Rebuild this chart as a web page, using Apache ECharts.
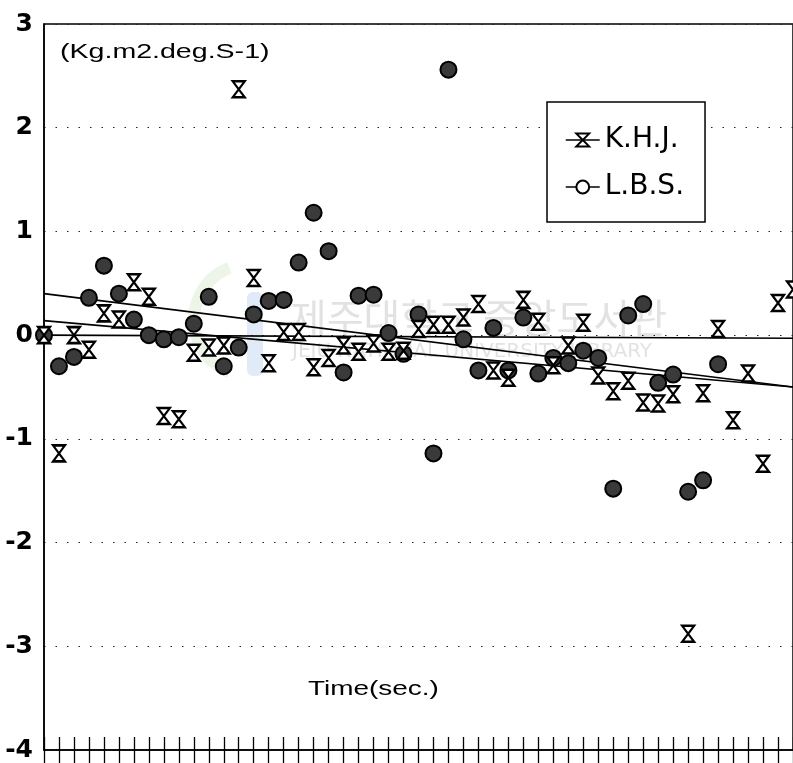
<!DOCTYPE html>
<html>
<head>
<meta charset="utf-8">
<script src="https://cdn.jsdelivr.net/npm/echarts@6/dist/echarts.min.js"></script>
<style>
  html, body { margin: 0; padding: 0; background: #fff; }
  #chart { width: 793px; height: 763px; }
</style>
</head>
<body>
<div id="chart"></div>
<script>
// Angular momentum samples, one per tick on the time axis
const khj = [0.00, -1.14, 0.00, -0.14, 0.21, 0.15, 0.51, 0.37, -0.78, -0.81,
             -0.17, -0.12, -0.10, 2.37, 0.55, -0.27, 0.03, 0.03, -0.31, -0.22,
             -0.10, -0.16, -0.08, -0.16, -0.15, 0.06, 0.10, 0.10, 0.17, 0.30,
             -0.34, -0.41, 0.34, 0.13, -0.29, -0.10, 0.12, -0.39, -0.54, -0.44,
             -0.65, -0.66, -0.57, -2.88, -0.56, 0.06, -0.82, -0.37, -1.24, 0.31,
             0.44];
const lbs = [0.00, -0.30, -0.21, 0.36, 0.67, 0.40, 0.15, 0.00, -0.04, -0.02,
             0.11, 0.37, -0.30, -0.12, 0.20, 0.33, 0.34, 0.70, 1.18, 0.81,
             -0.36, 0.38, 0.39, 0.02, -0.18, 0.20, -1.14, 2.56, -0.04, -0.34,
             0.07, -0.34, 0.17, -0.37, -0.22, -0.27, -0.15, -0.22, -1.48, 0.19,
             0.30, -0.46, -0.38, -1.51, -1.40, -0.28];

// Straight fitted lines: values at the two ends of the time axis
const fitX = [0, 50];
const fitUpper = [0.40, -0.50];
const fitLower = [0.14, -0.50];
const fitFlat = [0.00, -0.03];

const yTicks = [-4, -3, -2, -1, 0, 1, 2, 3];
const seriesNames = ['K.H.J.', 'L.B.S.'];
const unitLabel = '(Kg.m2.deg.S-1)';
const timeLabel = 'Time(sec.)';
const markName = '제주대학교 중앙도서관';
const markSub = 'JEJU NATIONAL UNIVERSITY LIBRARY';

const toPairs = arr => arr.map((v, i) => [i, v]);
const fitPairs = arr => arr.map((v, i) => [fitX[i], v]);

const hourglass = 'path://M0,0H12L6,8L12,16H0L6,8Z';

const GRID_TOP = 24, GRID_BOTTOM = 13, HEIGHT = 763;
const plotHeight = HEIGHT - GRID_TOP - GRID_BOTTOM;

const fitLine = (data) => ({
  type: 'line',
  data: fitPairs(data),
  symbol: 'none',
  silent: true,
  z: 1,
  lineStyle: { color: '#000', width: 1.6 }
});

// Time axis: crossing tick marks, drawn as two axes on the same baseline
const timeAxis = (position, offset) => ({
  type: 'value', min: 0, max: 50, interval: 1, position, offset,
  axisLine: { show: position === 'bottom', onZero: false, lineStyle: { color: '#000', width: 1.5 } },
  axisTick: { show: true, inside: false, length: 13, lineStyle: { color: '#000', width: 1.3 } },
  axisLabel: { show: false },
  splitLine: { show: false }
});

const chart = echarts.init(document.getElementById('chart'), null, { renderer: 'canvas' });

chart.setOption({
  animation: false,
  backgroundColor: '#fff',
  grid: {
    left: 44, top: GRID_TOP, right: -5, bottom: GRID_BOTTOM,
    show: true, borderColor: '#000', borderWidth: 1.5, backgroundColor: 'transparent'
  },
  xAxis: [timeAxis('bottom', 0), timeAxis('top', -plotHeight)],
  yAxis: {
    type: 'value', min: yTicks[0], max: yTicks[yTicks.length - 1], interval: 1,
    axisLine: { show: true, onZero: false, lineStyle: { color: '#000', width: 1.5 } },
    axisTick: { show: false },
    axisLabel: {
      margin: 11, color: '#000',
      fontFamily: 'DejaVu Sans', fontWeight: 'bold', fontSize: 25
    },
    splitLine: { show: true, lineStyle: { color: '#222', width: 1.2, type: [1.5, 10] } }
  },
  legend: {
    orient: 'vertical', left: 547, top: 102,
    padding: [24, 21, 21, 18], itemGap: 19, itemWidth: 34, itemHeight: 16,
    backgroundColor: '#fff', borderColor: '#000', borderWidth: 1.5,
    textStyle: { fontFamily: 'DejaVu Sans', fontSize: 28, color: '#000' },
    lineStyle: { color: '#000', width: 1.5, opacity: 1 },
    data: [
      { name: seriesNames[0] },
      { name: seriesNames[1], itemStyle: { color: '#fff', borderColor: '#000', borderWidth: 2 } }
    ]
  },
  graphic: [
    // faint library emblem and name printed behind the plot
    { type: 'sector', z: 0, silent: true,
      shape: { cx: 250, cy: 320, r: 62, r0: 50, startAngle: Math.PI * 0.62, endAngle: Math.PI * 1.38 },
      style: { fill: 'rgba(140,190,120,0.16)' } },
    { type: 'rect', z: 0, silent: true,
      shape: { x: 247, y: 292, width: 16, height: 84, r: 6 },
      style: { fill: 'rgba(90,140,210,0.18)' } },
    { type: 'text', z: 0, x: 290, y: 318, silent: true,
      style: { text: markName, font: '40px "Noto Sans CJK KR"', fill: 'rgba(150,150,150,0.28)',
               textVerticalAlign: 'middle' } },
    { type: 'text', z: 0, x: 292, y: 352, silent: true,
      style: { text: markSub, font: '20px "DejaVu Sans"', fill: 'rgba(150,150,150,0.28)',
               textVerticalAlign: 'middle' } },
    { type: 'text', z: 5, x: 60, y: 52, scaleX: 1.36, silent: true,
      style: { text: unitLabel, font: '21px "Liberation Sans"', fill: '#000',
               textVerticalAlign: 'middle' } },
    { type: 'text', z: 5, x: 308, y: 689, scaleX: 1.33, silent: true,
      style: { text: timeLabel, font: '21px "Liberation Sans"', fill: '#000',
               textVerticalAlign: 'middle' } }
  ],
  series: [
    fitLine(fitFlat),
    fitLine(fitUpper),
    fitLine(fitLower),
    {
      name: seriesNames[1], type: 'line', data: toPairs(lbs),
      symbol: 'circle', symbolSize: 16, showSymbol: true, z: 3,
      lineStyle: { width: 0, opacity: 0 },
      itemStyle: { color: '#3a3a3a', borderColor: '#000', borderWidth: 2 }
    },
    {
      name: seriesNames[0], type: 'line', data: toPairs(khj),
      symbol: hourglass, symbolSize: [12, 16], showSymbol: true, z: 4,
      lineStyle: { width: 0, opacity: 0 },
      itemStyle: { color: '#fff', borderColor: '#000', borderWidth: 2.2 }
    }
  ]
});
</script>
</body>
</html>
